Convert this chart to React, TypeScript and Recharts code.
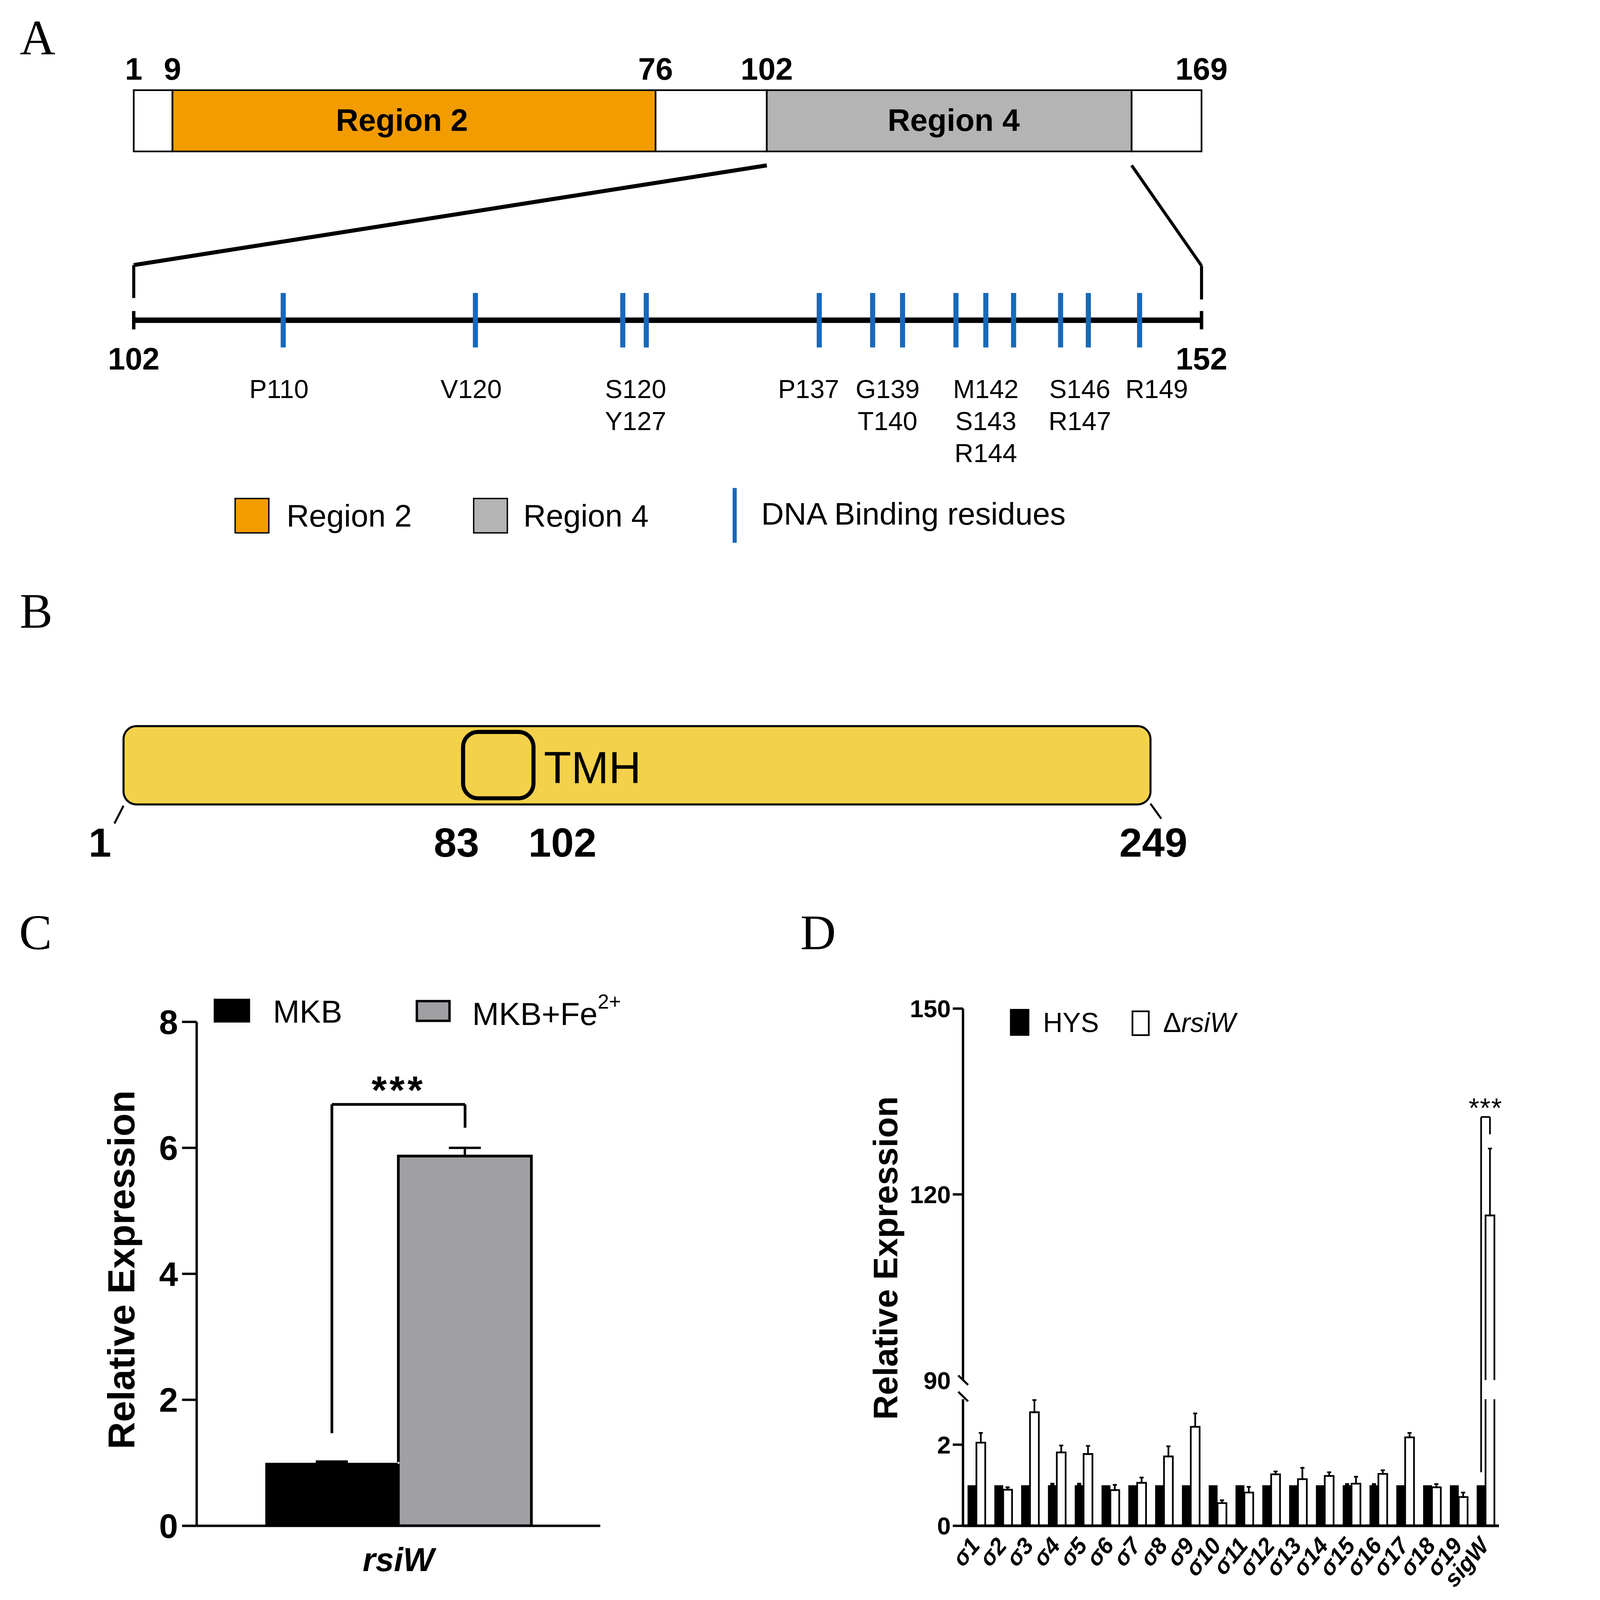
import React from "react";
import {
  ComposedChart,
  Bar,
  Line,
  XAxis,
  YAxis,
  ReferenceArea,
  ReferenceLine,
  ReferenceDot,
  ErrorBar,
} from "recharts";

const FONT = 'Arial, "Liberation Sans", Helvetica, sans-serif';
const SERIF = '"Liberation Serif", "Times New Roman", serif';
const PAGE_W = 4424;
const PAGE_H = 4702;

// ---------- Panel A: SigW domains, positions as drawn on the 1–169 bar ----------
const domainBounds = [1, 7.1, 83.1, 100.6, 158.0, 169];
const domainNames = ["", "Region 2", "", "Region 4", ""];
const domainNamePos = [0, 43.2, 0, 130, 0];
const domainFills = ["#ffffff", "#F39C00", "#ffffff", "#B4B4B4", "#ffffff"];
const boundLabels = ["1", "9", "76", "102", "", "169"];

// Region 4 ruler (102–152) and the DNA binding residues on it
const rulerRange = [102, 152];
const bindingSites = [109, 118, 124.9, 126, 134.1, 136.6, 138, 140.5, 141.9, 143.2, 145.4, 146.7, 149.1];
const residuePos = [108.8, 117.8, 125.5, 133.6, 137.3, 141.9, 146.3, 149.9];
const residueText = [
  ["P110"],
  ["V120"],
  ["S120", "Y127"],
  ["P137"],
  ["G139", "T140"],
  ["M142", "S143", "R144"],
  ["S146", "R147"],
  ["R149"],
];

// ---------- Panel B: RsiW ----------
const rsiwRange = [1, 249];
const tmhRange = [83, 100];
const rsiwLabelPos = [-4.7, 81.4, 107, 249.7];
const rsiwLabelText = ["1", "83", "102", "249"];

// ---------- Panel C ----------
const cGenes = ["rsiW"];
const cMkb = [1.0];
const cMkbErr = [0.02];
const cFe = [5.87];
const cFeErr = [0.13];
const cTicks = [0, 2, 4, 6, 8];
const cBracket = { low: 1.47, top: 6.69, right: 6.32 };

// ---------- Panel D ----------
const dGenes = ["σ1", "σ2", "σ3", "σ4", "σ5", "σ6", "σ7", "σ8", "σ9", "σ10", "σ11", "σ12", "σ13", "σ14", "σ15", "σ16", "σ17", "σ18", "σ19", "sigW"];
const dHys = [1, 1, 1, 1, 1, 1, 1, 1, 1, 1, 1, 1, 1, 1, 1, 1, 1, 1, 1, 1];
const dHysErr = [0, 0, 0, 0.04, 0.04, 0, 0, 0, 0, 0, 0, 0, 0, 0, 0.03, 0.03, 0, 0, 0, 0];
const dMut = [2.05, 0.89, 2.8, 1.81, 1.77, 0.88, 1.06, 1.71, 2.44, 0.56, 0.82, 1.27, 1.15, 1.23, 1.04, 1.28, 2.18, 0.95, 0.71, 116.6];
const dMutErr = [0.24, 0.06, 0.3, 0.17, 0.2, 0.13, 0.13, 0.25, 0.33, 0.07, 0.14, 0.07, 0.28, 0.09, 0.17, 0.09, 0.11, 0.08, 0.11, 10.8];
const dLowerTicks = [0, 2];
const dUpperTicks = [90, 120, 150];
const dBracket = { low: 1.32, top: 132.5, right: 129.7 };

const LOWER_MAX = 3.12;
const UPPER_MIN = 90;
const UPPER_MAX = 150;
const BAR_GAP = 0.17; // barCategoryGap fraction, used for bracket anchors

// helper: text drawn at a reference dot position
type TextOpts = { size: number; weight?: number; anchor?: string; lineH?: number; dy?: number };
const textDot = (lines: string[], o: TextOpts) => (p: any) => (
  <text
    x={p.cx}
    y={p.cy + (o.dy ?? 0)}
    textAnchor={o.anchor ?? "middle"}
    fontFamily={FONT}
    fontSize={o.size}
    fontWeight={o.weight ?? 400}
    fill="#000"
  >
    {lines.map((l, i) => (
      <tspan key={i} x={p.cx} dy={i === 0 ? 0 : o.lineH}>
        {l}
      </tspan>
    ))}
  </text>
);

// invisible series that keeps a numeric axis "in use"
const anchorLine = (xAxisId: string, yAxisId: any, dataKey: string) => (
  <Line xAxisId={xAxisId} yAxisId={yAxisId} dataKey={dataKey} stroke="none" dot={false} activeDot={false}
    isAnimationActive={false} legendType="none" />
);

function PanelA() {
  const H = 1650;
  const anchors = [
    { f: 1, r: rulerRange[0], row: 0 },
    { f: 169, r: rulerRange[1], row: 0 },
  ];
  return (
    <div style={{ position: "absolute", left: 0, top: 0 }}>
      <ComposedChart width={PAGE_W} height={H} data={anchors} margin={{ top: 0, right: PAGE_W - 3531, bottom: 0, left: 393 }}>
        <XAxis xAxisId="full" dataKey="f" type="number" domain={[1, 169]} hide allowDataOverflow />
        <XAxis xAxisId="ruler" dataKey="r" type="number" domain={rulerRange} hide allowDataOverflow />
        <YAxis yAxisId="row" type="number" domain={[0, H]} reversed hide allowDataOverflow />
        {anchorLine("full", "row", "row")}
        {anchorLine("ruler", "row", "row")}

        {domainFills.map((fill, i) => (
          <ReferenceArea
            key={"d" + i}
            xAxisId="full"
            yAxisId="row"
            x1={domainBounds[i]}
            x2={domainBounds[i + 1]}
            y1={265}
            y2={445}
            fill={fill}
            fillOpacity={1}
            stroke="#000"
            strokeWidth={5}
            ifOverflow="visible"
          />
        ))}
        {domainNames.map((name, i) =>
          name ? (
            <ReferenceDot
              key={"n" + i}
              xAxisId="full"
              yAxisId="row"
              x={domainNamePos[i]}
              y={384}
              r={1}
              ifOverflow="visible"
              shape={textDot([name], { size: 92, weight: 700 })}
            />
          ) : null
        )}
        {boundLabels.map((lab, i) =>
          lab ? (
            <ReferenceDot
              key={"b" + i}
              xAxisId="full"
              yAxisId="row"
              x={domainBounds[i]}
              y={234}
              r={1}
              ifOverflow="visible"
              shape={textDot([lab], { size: 92, weight: 700 })}
            />
          ) : null
        )}

        {/* zoom lines from Region 4 to the ruler */}
        <ReferenceLine xAxisId="full" yAxisId="row" ifOverflow="visible" stroke="#000" strokeWidth={12}
          segment={[{ x: domainBounds[3], y: 486 }, { x: 1, y: 779 }]} />
        <ReferenceLine xAxisId="full" yAxisId="row" ifOverflow="visible" stroke="#000" strokeWidth={9}
          segment={[{ x: 1, y: 779 }, { x: 1, y: 876 }]} />
        <ReferenceLine xAxisId="full" yAxisId="row" ifOverflow="visible" stroke="#000" strokeWidth={9}
          segment={[{ x: domainBounds[4], y: 486 }, { x: 169, y: 781 }]} />
        <ReferenceLine xAxisId="full" yAxisId="row" ifOverflow="visible" stroke="#000" strokeWidth={9}
          segment={[{ x: 169, y: 781 }, { x: 169, y: 880 }]} />

        {/* ruler */}
        <ReferenceLine xAxisId="ruler" yAxisId="row" ifOverflow="visible" stroke="#000" strokeWidth={16}
          segment={[{ x: rulerRange[0], y: 941 }, { x: rulerRange[1], y: 941 }]} />
        {rulerRange.map((r) => (
          <ReferenceLine key={"e" + r} xAxisId="ruler" yAxisId="row" ifOverflow="visible" stroke="#000" strokeWidth={10}
            segment={[{ x: r, y: 914 }, { x: r, y: 968 }]} />
        ))}
        {bindingSites.map((s, i) => (
          <ReferenceLine key={"s" + i} xAxisId="ruler" yAxisId="row" ifOverflow="visible" stroke="#1769BA" strokeWidth={15}
            segment={[{ x: s, y: 861 }, { x: s, y: 1021 }]} />
        ))}
        {rulerRange.map((r) => (
          <ReferenceDot key={"rl" + r} xAxisId="ruler" yAxisId="row" x={r} y={1086} r={1} ifOverflow="visible"
            shape={textDot([String(r)], { size: 91, weight: 700 })} />
        ))}
        {residuePos.map((p, i) => (
          <ReferenceDot key={"rp" + i} xAxisId="ruler" yAxisId="row" x={p} y={1170} r={1} ifOverflow="visible"
            shape={textDot(residueText[i], { size: 77, lineH: 94 })} />
        ))}
      </ComposedChart>
    </div>
  );
}

function PanelB() {
  const TOP = 1950;
  const H = 650;
  const anchors = [
    { x: rsiwRange[0], row: TOP },
    { x: rsiwRange[1], row: TOP },
  ];
  const rounded = (rx: number, fill: string, sw: number) => (p: any) => (
    <rect x={p.x} y={p.y} width={p.width} height={p.height} rx={rx} ry={rx} fill={fill} stroke="#000" strokeWidth={sw} />
  );
  return (
    <div style={{ position: "absolute", left: 0, top: TOP }}>
      <ComposedChart width={PAGE_W} height={H} data={anchors} margin={{ top: 0, right: PAGE_W - 3381, bottom: 0, left: 363 }}>
        <XAxis xAxisId="x" dataKey="x" type="number" domain={rsiwRange} hide allowDataOverflow />
        <YAxis yAxisId="row" type="number" domain={[TOP, TOP + H]} reversed hide allowDataOverflow />
        {anchorLine("x", "row", "row")}
        <ReferenceArea xAxisId="x" yAxisId="row" x1={rsiwRange[0]} x2={rsiwRange[1]} y1={2134} y2={2364}
          ifOverflow="visible" shape={rounded(38, "#F3D14B", 6)} />
        <ReferenceArea xAxisId="x" yAxisId="row" x1={tmhRange[0]} x2={tmhRange[1]} y1={2151} y2={2346}
          ifOverflow="visible" shape={rounded(44, "none", 12)} />
        <ReferenceDot xAxisId="x" yAxisId="row" x={102.5} y={2302} r={1} ifOverflow="visible"
          shape={textDot(["TMH"], { size: 132, anchor: "start" })} />
        <ReferenceLine xAxisId="x" yAxisId="row" ifOverflow="visible" stroke="#000" strokeWidth={6}
          segment={[{ x: rsiwRange[0], y: 2368 }, { x: -1.2, y: 2420 }]} />
        <ReferenceLine xAxisId="x" yAxisId="row" ifOverflow="visible" stroke="#000" strokeWidth={6}
          segment={[{ x: rsiwRange[1], y: 2362 }, { x: 251.6, y: 2406 }]} />
        {rsiwLabelPos.map((p, i) => (
          <ReferenceDot key={"l" + i} xAxisId="x" yAxisId="row" x={p} y={2518} r={1} ifOverflow="visible"
            shape={textDot([rsiwLabelText[i]], { size: 120, weight: 700 })} />
        ))}
      </ComposedChart>
    </div>
  );
}

function PanelC() {
  const data = cGenes.map((g, i) => ({
    name: g,
    pos: i + 0.5,
    mkb: cMkb[i],
    mkbErr: [0, cMkbErr[i]],
    fe: cFe[i],
    feErr: [0, cFeErr[i]],
  }));
  const barFrac = (1 - 2 * BAR_GAP) / 2;
  const xL = BAR_GAP + barFrac / 2;
  const xR = 1 - BAR_GAP - barFrac / 2;
  return (
    <div style={{ position: "absolute", left: 0, top: 2850 }}>
      <ComposedChart width={1900} height={1850} data={data} barCategoryGap="17%" barGap={0}
        margin={{ top: 153, right: 136, bottom: 66, left: 0 }}>
        <XAxis dataKey="name" height={150} axisLine={{ stroke: "#000", strokeWidth: 7 }} tickLine={false}
          tickSize={0} tickMargin={0}
          tick={(p: any) => (
            <text x={p.x} y={p.y + 133} textAnchor="middle" fontFamily={FONT} fontSize={97} fontWeight={700} fontStyle="italic" fill="#000">
              {p.payload.value}
            </text>
          )} />
        <XAxis xAxisId="pos" dataKey="pos" type="number" domain={[0, cGenes.length]} hide allowDataOverflow />
        <YAxis type="number" domain={[0, 8]} ticks={cTicks} width={578} allowDataOverflow
          axisLine={{ stroke: "#000", strokeWidth: 7 }} tickLine={{ stroke: "#000", strokeWidth: 7 }}
          tickSize={43} tickMargin={12}
          tick={{ fill: "#000", fontSize: 100, fontWeight: 700, fontFamily: FONT }}
          label={{
            content: (p: any) => {
              const vb = p.viewBox || {};
              const x = (vb.x ?? 0) + 395;
              const y = (vb.y ?? 0) + (vb.height ?? 0) / 2 - 12;
              return (
                <text x={x} y={y} transform={`rotate(-90 ${x} ${y})`} textAnchor="middle" fontFamily={FONT} fontSize={111} fontWeight={700} fill="#000">
                  Relative Expression
                </text>
              );
            },
          }} />
        {anchorLine("pos", 0, "mkb")}
        <Bar dataKey="mkb" fill="#000" isAnimationActive={false}>
          <ErrorBar dataKey="mkbErr" width={47} stroke="#000" strokeWidth={7} direction="y" />
        </Bar>
        <Bar dataKey="fe" fill="#A0A0A4" stroke="#000" strokeWidth={8} isAnimationActive={false}>
          <ErrorBar dataKey="feErr" width={47} stroke="#000" strokeWidth={7} direction="y" />
        </Bar>
        <ReferenceLine xAxisId="pos" ifOverflow="visible" stroke="#000" strokeWidth={8}
          segment={[{ x: xL, y: cBracket.low }, { x: xL, y: cBracket.top }]} />
        <ReferenceLine xAxisId="pos" ifOverflow="visible" stroke="#000" strokeWidth={8}
          segment={[{ x: xL, y: cBracket.top }, { x: xR, y: cBracket.top }]} />
        <ReferenceLine xAxisId="pos" ifOverflow="visible" stroke="#000" strokeWidth={8}
          segment={[{ x: xR, y: cBracket.top }, { x: xR, y: cBracket.right }]} />
        <ReferenceDot xAxisId="pos" x={(xL + xR) / 2} y={cBracket.top} r={1} ifOverflow="visible"
          shape={(p: any) => (
            <text x={p.cx} y={p.cy - 2} textAnchor="middle" fontFamily={FONT} fontSize={115} fontWeight={700} letterSpacing={8} fill="#000">
              ***
            </text>
          )} />
      </ComposedChart>
    </div>
  );
}

const OpenBottomBar = (p: any) => {
  if (!p || p.height == null || !p.width) return null;
  const { x, y, width, height } = p;
  return (
    <path d={`M${x},${y + height} L${x},${y} L${x + width},${y} L${x + width},${y + height}`}
      fill="#fff" stroke="#000" strokeWidth={5} />
  );
};

const SigmaTick = (p: any) => {
  const ax = p.x + 14;
  const ay = p.y + 60;
  return (
    <text x={ax} y={ay} transform={`rotate(-50 ${ax} ${ay})`} textAnchor="end" fontFamily={FONT} fontSize={68}
      fontWeight={700} fontStyle="italic" fill="#000">
      {p.payload.value}
    </text>
  );
};

const UpperTick = (p: any) => {
  const axisX = p.x + 6 + 30;
  const v = p.payload.value;
  return (
    <g>
      <text x={p.x} y={p.y} dy="0.355em" textAnchor="end" fontFamily={FONT} fontSize={72} fontWeight={700} fill="#000">
        {v}
      </text>
      {v !== UPPER_MIN && <line x1={axisX - 30} x2={axisX} y1={p.y} y2={p.y} stroke="#000" strokeWidth={7} />}
    </g>
  );
};

function PanelD() {
  const lower = dGenes.map((g, i) => ({
    name: g,
    pos: i + 0.5,
    hys: dHys[i],
    hysErr: dHysErr[i] ? [0, dHysErr[i]] : null,
    mut: dMut[i],
    mutErr: dMut[i] <= LOWER_MAX ? [0, dMutErr[i]] : null,
  }));
  const upper = dGenes.map((g, i) => ({
    name: g,
    pos: i + 0.5,
    hys: null,
    mut: dMut[i] >= UPPER_MIN ? dMut[i] : null,
    mutErr: dMut[i] >= UPPER_MIN ? [0, dMutErr[i]] : null,
  }));
  const n = dGenes.length;
  const barFrac = (1 - 2 * BAR_GAP) / 2;
  const xL = n - 1 + BAR_GAP + barFrac / 2;
  const xR = n - BAR_GAP - barFrac / 2;
  // upper plot: 2964–4056, lower plot starts at 4112
  const upperPx = (4056 - 2964) / (UPPER_MAX - UPPER_MIN);
  const gapBottom = UPPER_MIN - (4112 - 4056) / upperPx;
  const common = { barCategoryGap: "17%", barGap: 0 } as any;
  return (
    <>
      <div style={{ position: "absolute", left: 2300, top: 2850 }}>
        <ComposedChart width={2124} height={1270} data={upper} {...common} margin={{ top: 114, right: 19, bottom: 64, left: 0 }}>
          <XAxis dataKey="name" hide />
          <XAxis xAxisId="pos" dataKey="pos" type="number" domain={[0, n]} hide allowDataOverflow />
          <YAxis type="number" domain={[UPPER_MIN, UPPER_MAX]} ticks={dUpperTicks} width={530} allowDataOverflow
            axisLine={{ stroke: "#000", strokeWidth: 7 }} tickLine={false} tickSize={30} tickMargin={6}
            tick={UpperTick} />
          {anchorLine("pos", 0, "mut")}
          <Bar dataKey="hys" fill="#000" isAnimationActive={false} />
          <Bar dataKey="mut" fill="#fff" shape={OpenBottomBar} isAnimationActive={false}>
            <ErrorBar dataKey="mutErr" width={6} stroke="#000" strokeWidth={5} direction="y" />
          </Bar>
          <ReferenceLine xAxisId="pos" ifOverflow="visible" stroke="#000" strokeWidth={5}
            segment={[{ x: xL, y: gapBottom }, { x: xL, y: dBracket.top }]} />
          <ReferenceLine xAxisId="pos" ifOverflow="visible" stroke="#000" strokeWidth={5}
            segment={[{ x: xL, y: dBracket.top }, { x: xR, y: dBracket.top }]} />
          <ReferenceLine xAxisId="pos" ifOverflow="visible" stroke="#000" strokeWidth={5}
            segment={[{ x: xR, y: dBracket.top }, { x: xR, y: dBracket.right }]} />
          <ReferenceDot xAxisId="pos" x={(xL + xR) / 2} y={dBracket.top} r={1} ifOverflow="visible"
            shape={(p: any) => (
              <text x={p.cx} y={p.cy + 2} textAnchor="middle" fontFamily={FONT} fontSize={80} letterSpacing={2} fill="#000">
                ***
              </text>
            )} />
        </ComposedChart>
      </div>
      <div style={{ position: "absolute", left: 2300, top: 4000 }}>
        <ComposedChart width={2124} height={700} data={lower} {...common} margin={{ top: 112, right: 19, bottom: 16, left: 0 }}>
          <XAxis dataKey="name" height={200} axisLine={{ stroke: "#000", strokeWidth: 8 }} tickLine={false}
            tickSize={0} tickMargin={0} interval={0} tick={SigmaTick} />
          <XAxis xAxisId="pos" dataKey="pos" type="number" domain={[0, n]} hide allowDataOverflow />
          <YAxis type="number" domain={[0, LOWER_MAX]} ticks={dLowerTicks} width={530} allowDataOverflow
            axisLine={{ stroke: "#000", strokeWidth: 7 }} tickLine={{ stroke: "#000", strokeWidth: 7 }}
            tickSize={30} tickMargin={6}
            tick={{ fill: "#000", fontSize: 72, fontWeight: 700, fontFamily: FONT }} />
          {anchorLine("pos", 0, "hys")}
          <Bar dataKey="hys" fill="#000" isAnimationActive={false}>
            <ErrorBar dataKey="hysErr" width={6} stroke="#000" strokeWidth={5} direction="y" />
          </Bar>
          <Bar dataKey="mut" fill="#fff" stroke="#000" strokeWidth={5} isAnimationActive={false}>
            <ErrorBar dataKey="mutErr" width={6} stroke="#000" strokeWidth={5} direction="y" />
          </Bar>
          <ReferenceLine xAxisId="pos" ifOverflow="visible" stroke="#000" strokeWidth={5}
            segment={[{ x: xL, y: dBracket.low }, { x: xL, y: LOWER_MAX }]} />
        </ComposedChart>
      </div>
    </>
  );
}

function Overlay() {
  const t = { fontFamily: FONT, fill: "#000" } as any;
  return (
    <svg width={PAGE_W} height={PAGE_H} style={{ position: "absolute", left: 0, top: 0, pointerEvents: "none" }}>
      {/* panel letters */}
      <g fontFamily={SERIF} fontSize={145} fill="#000">
        <text x={58} y={159}>A</text>
        <text x={58} y={1845}>B</text>
        <text x={56} y={2790}>C</text>
        <text x={2352} y={2790}>D</text>
      </g>

      {/* legend A */}
      <rect x={691} y={1465} width={99} height={101} fill="#F39C00" stroke="#000" strokeWidth={4} />
      <text x={842} y={1547} fontSize={92} {...t}>Region 2</text>
      <rect x={1392} y={1465} width={99} height={101} fill="#B4B4B4" stroke="#000" strokeWidth={4} />
      <text x={1538} y={1547} fontSize={92} {...t}>Region 4</text>
      <line x1={2159} x2={2159} y1={1434} y2={1595} stroke="#1769BA" strokeWidth={12} />
      <text x={2237} y={1542} fontSize={92} {...t}>DNA Binding residues</text>

      {/* legend C */}
      <rect x={628} y={2935} width={107} height={70} fill="#000" />
      <text x={802} y={3005} fontSize={94} {...t}>MKB</text>
      <rect x={1225} y={2942} width={96} height={58} fill="#A0A0A4" stroke="#000" strokeWidth={7} />
      <text x={1388} y={3012} fontSize={94} {...t}>
        MKB+Fe<tspan fontSize={60} dy={-48}>2+</tspan>
      </text>

      {/* legend D */}
      <rect x={2968} y={2965} width={57} height={79} fill="#000" />
      <text x={3065} y={3033} fontSize={80} {...t}>HYS</text>
      <rect x={3328} y={2972} width={48} height={70} fill="#fff" stroke="#000" strokeWidth={5} />
      <text x={3418} y={3033} fontSize={80} {...t}>
        Δ<tspan fontStyle="italic">rsiW</tspan>
      </text>

      {/* D y-axis title and axis break marks */}
      <text x={2637} y={3697} transform="rotate(-90 2637 3697)" textAnchor="middle" fontSize={100} fontWeight={700} {...t}>
        Relative Expression
      </text>
      <line x1={2816} y1={4042} x2={2845} y2={4070} stroke="#000" strokeWidth={6} />
      <line x1={2816} y1={4090} x2={2845} y2={4118} stroke="#000" strokeWidth={6} />
    </svg>
  );
}

// fit the figure into the visible viewport
const fitScale = () =>
  typeof window === "undefined"
    ? 1
    : Math.min(1, window.innerWidth / PAGE_W, window.innerHeight / PAGE_H);

export default function App() {
  const [s, setS] = React.useState(fitScale);
  React.useLayoutEffect(() => {
    document.documentElement.style.margin = "0";
    document.body.style.margin = "0";
    document.body.style.overflow = "hidden";
    document.documentElement.style.overflow = "hidden";
    setS(fitScale());
  }, []);
  return (
    <div style={{ position: "absolute", left: 0, top: 0, width: PAGE_W * s, height: PAGE_H * s, overflow: "hidden", background: "#fff" }}>
      <div style={{ position: "absolute", left: 0, top: 0, width: PAGE_W, height: PAGE_H, transform: `scale(${s})`, transformOrigin: "0 0", fontFamily: FONT }}>
        <PanelA />
        <PanelB />
        <PanelC />
        <PanelD />
        <Overlay />
      </div>
    </div>
  );
}
